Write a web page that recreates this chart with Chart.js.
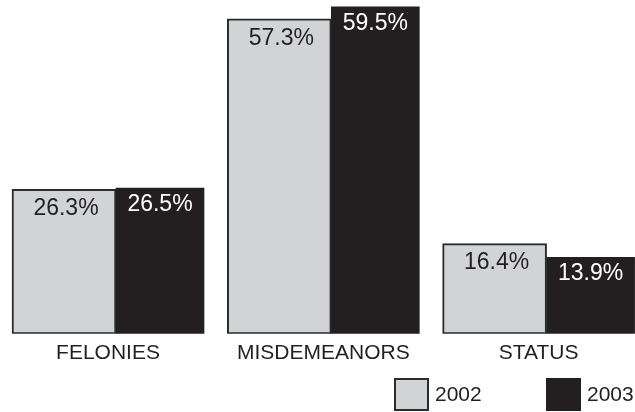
<!DOCTYPE html>
<html>
<head>
<meta charset="utf-8">
<script src="https://cdn.jsdelivr.net/npm/chart.js@4/dist/chart.umd.min.js"></script>
<style>
html,body{margin:0;padding:0;background:#fff;}
#wrap{width:635px;height:412px;position:relative;}
</style>
</head>
<body>
<div id="wrap"><canvas id="c"></canvas></div>
<script>
const categories = ["FELONIES", "MISDEMEANORS", "STATUS"];
const seriesLabels = ["2002", "2003"];
const values2002 = [26.3, 57.3, 16.4];
const values2003 = [26.5, 59.5, 13.9];

const FONT = "'Liberation Sans', Arial, Helvetica, sans-serif";
const LIGHT = "#d1d3d4";
const DARK = "#231f20";

const valueLabels = {
  id: "valueLabels",
  afterDatasetsDraw(chart) {
    const ctx = chart.ctx;
    ctx.save();
    ctx.font = "23px " + FONT;
    ctx.textAlign = "center";
    ctx.textBaseline = "top";
    chart.data.datasets.forEach((ds, di) => {
      const meta = chart.getDatasetMeta(di);
      meta.data.forEach((el, i) => {
        const v = ds.data[i].y;
        ctx.fillStyle = di === 0 ? DARK : "#ffffff";
        ctx.fillText(v.toFixed(1) + "%", el.x + (di === 0 ? 2 : 0), el.y + (di === 0 ? 8 : 5));
      });
    });
    ctx.restore();
  }
};

const customLegend = {
  id: "customLegend",
  afterDraw(chart) {
    const ctx = chart.ctx;
    const W = chart.width, H = chart.height;
    const startX = W - 241, step = 152;
    const boxW = 35, boxH = 33;
    const y = H - boxH - 1;
    ctx.save();
    ctx.font = "21px " + FONT;
    ctx.textBaseline = "middle";
    ctx.textAlign = "left";
    chart.data.datasets.forEach((ds, i) => {
      const x = startX + i * step;
      ctx.fillStyle = ds.backgroundColor;
      ctx.fillRect(x, y, boxW, boxH);
      ctx.lineWidth = 2;
      ctx.strokeStyle = ds.borderColor;
      ctx.strokeRect(x + 1, y + 1, boxW - 2, boxH - 2);
      ctx.fillStyle = DARK;
      ctx.fillText(ds.label, x + boxW + 6, y + boxH / 2 + 1);
    });
    ctx.restore();
  }
};

new Chart(document.getElementById("c"), {
  type: "bar",
  data: {
    datasets: [
      {
        label: seriesLabels[0],
        data: values2002.map((v, i) => ({ x: i, y: v })),
        backgroundColor: LIGHT,
        borderColor: "#2b2b2b",
        borderWidth: 2,
        borderSkipped: false,
        barThickness: 104
      },
      {
        label: seriesLabels[1],
        data: values2003.map((v, i) => ({ x: i, y: v })),
        backgroundColor: DARK,
        borderColor: DARK,
        borderWidth: 0,
        borderSkipped: false,
        barThickness: 88
      }
    ]
  },
  options: {
    responsive: true,
    maintainAspectRatio: false,
    animation: false,
    layout: { padding: { top: 4, left: 0, right: 0, bottom: 39 } },
    plugins: {
      legend: { display: false },
      tooltip: { enabled: false }
    },
    scales: {
      x: {
        type: "linear",
        offset: false,
        min: -0.5388,
        max: 2.4106,
        grid: { display: false, drawTicks: false },
        border: { display: false },
        afterBuildTicks(scale) {
          scale.ticks = categories.map((_, i) => ({ value: i }));
        },
        ticks: {
          autoSkip: false,
          maxRotation: 0,
          padding: 7,
          labelOffset: -8,
          color: DARK,
          font: { family: FONT, size: 21 },
          callback: (v) => categories[v]
        }
      },
      y: {
        display: false,
        min: 0,
        max: 60
      }
    }
  },
  plugins: [valueLabels, customLegend]
});
</script>
</body>
</html>
